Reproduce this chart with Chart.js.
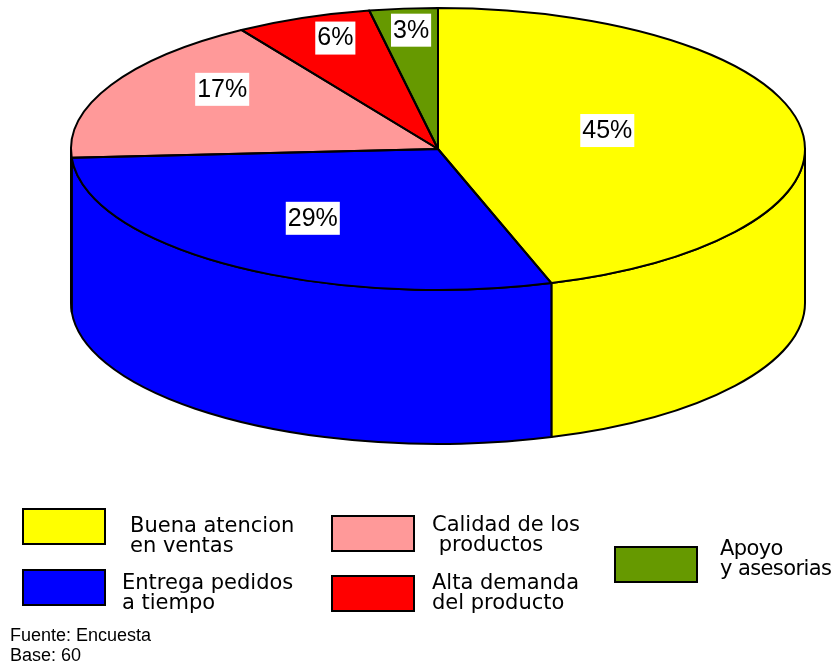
<!DOCTYPE html>
<html>
<head>
<meta charset="utf-8">
<script src="https://cdn.jsdelivr.net/npm/chart.js@4"></script>
<style>
  html, body { margin: 0; padding: 0; background: #fff; }
  #wrap { position: relative; width: 833px; height: 665px; overflow: hidden; }
  #pie { position: absolute; left: 0; top: 0; }
  .box { position: absolute; width: 84px; height: 37px; border: 2px solid #000; box-sizing: border-box; }
  .lbl { position: absolute; font-family: "DejaVu Sans", sans-serif; font-size: 21px; line-height: 20px; color: #000; white-space: pre; }
  .note { position: absolute; left: 10px; font-family: "Liberation Sans", Arial, sans-serif; font-size: 18px; line-height: 20px; color: #000; }
</style>
</head>
<body>
<div id="wrap">
  <canvas id="pie" width="833" height="665"></canvas>
  <div id="legend"></div>
  <div class="note" style="top:625px">Fuente: Encuesta</div>
  <div class="note" style="top:645px">Base: 60</div>
</div>
<script>
const categories = ['Buena atencion\nen ventas', 'Entrega pedidos\na tiempo', 'Calidad de los\n productos', 'Alta demanda\ndel producto', 'Apoyo\ny asesorias'];
const porcentajes = [45, 29, 17, 6, 3];
const colores = ['#ffff00', '#0000ff', '#ff9999', '#ff0000', '#669900'];

// elipse de la cara superior y altura del cilindro
const RX = 367;
const RY = 141;
const DEPTH = 154;
const K = RY / RX;

// posicion de las etiquetas como fraccion del radio (x, y)
const labelPos = [[0.467, 0.86], [0.607, 0.59], [0.66, 0.94], [0.76, 0.85], [0.78, 0.85]];

const pie3d = {
    id: 'pie3d',
    beforeDatasetsDraw(chart) {
        const ctx = chart.ctx;
        const arcs = chart.getDatasetMeta(0).data;
        const cx = arcs[0].x, cy = arcs[0].y;
        // paredes frontales (de 0 a PI)
        arcs.forEach(arc => {
            const a = Math.max(arc.startAngle, 0);
            const b = Math.min(arc.endAngle, Math.PI);
            if (a >= b) return;
            ctx.save();
            ctx.beginPath();
            ctx.ellipse(cx, cy, RX, RY, 0, a, b);
            ctx.lineTo(cx + RX * Math.cos(b), cy + RY * Math.sin(b) + DEPTH);
            ctx.ellipse(cx, cy + DEPTH, RX, RY, 0, b, a, true);
            ctx.closePath();
            ctx.fillStyle = arc.options.backgroundColor;
            ctx.fill();
            ctx.lineWidth = 2;
            ctx.lineJoin = 'round';
            ctx.strokeStyle = '#000';
            ctx.stroke();
            ctx.restore();
        });
        // aplastar la torta para la cara superior
        ctx.save();
        ctx.translate(cx, cy);
        ctx.scale(1, K);
        ctx.translate(-cx, -cy);
    },
    afterDatasetsDraw(chart) {
        const ctx = chart.ctx;
        ctx.restore();
        const arcs = chart.getDatasetMeta(0).data;
        const cx = arcs[0].x, cy = arcs[0].y;
        // contornos de la cara superior
        ctx.save();
        ctx.lineWidth = 2;
        ctx.lineJoin = 'round';
        ctx.strokeStyle = '#000';
        arcs.forEach(arc => {
            ctx.beginPath();
            ctx.moveTo(cx, cy);
            ctx.ellipse(cx, cy, RX, RY, 0, arc.startAngle, arc.endAngle);
            ctx.closePath();
            ctx.stroke();
        });
        // etiquetas de porcentaje
        ctx.font = '25px "Liberation Sans", Arial, sans-serif';
        ctx.textAlign = 'center';
        ctx.textBaseline = 'middle';
        arcs.forEach((arc, i) => {
            const mid = (arc.startAngle + arc.endAngle) / 2;
            const x = cx + RX * labelPos[i][0] * Math.cos(mid);
            const y = cy + RY * labelPos[i][1] * Math.sin(mid);
            const txt = porcentajes[i] + '%';
            const w = ctx.measureText(txt).width + 4;
            ctx.fillStyle = '#fff';
            ctx.fillRect(x - w / 2, y - 16, w, 33);
            ctx.fillStyle = '#000';
            ctx.fillText(txt, x, y + 1);
        });
        ctx.restore();
    }
};

new Chart(document.getElementById('pie'), {
    type: 'pie',
    data: {
        labels: categories,
        datasets: [{
            data: porcentajes,
            backgroundColor: colores,
            borderWidth: 0,
            radius: RX,
            clip: false
        }]
    },
    options: {
        responsive: false,
        animation: false,
        layout: { padding: { left: 43, right: 0, top: 0, bottom: 367 } },
        plugins: { legend: { display: false }, tooltip: { enabled: false } }
    },
    plugins: [pie3d]
});

// leyenda en tres columnas
const legendSpots = [
    { box: [22, 508], text: [130, 515] },
    { box: [22, 569], text: [122, 572] },
    { box: [331, 515], text: [432, 514] },
    { box: [331, 575], text: [432, 572] },
    { box: [614, 546], text: [720, 538], tight: true }
];
const legend = document.getElementById('legend');
categories.forEach((name, i) => {
    const b = document.createElement('div');
    b.className = 'box';
    b.style.left = legendSpots[i].box[0] + 'px';
    b.style.top = legendSpots[i].box[1] + 'px';
    b.style.background = colores[i];
    legend.appendChild(b);
    const t = document.createElement('div');
    t.className = 'lbl';
    t.style.left = legendSpots[i].text[0] + 'px';
    t.style.top = legendSpots[i].text[1] + 'px';
    if (legendSpots[i].tight) t.style.letterSpacing = '-0.6px';
    t.textContent = name;
    legend.appendChild(t);
});
</script>
</body>
</html>
